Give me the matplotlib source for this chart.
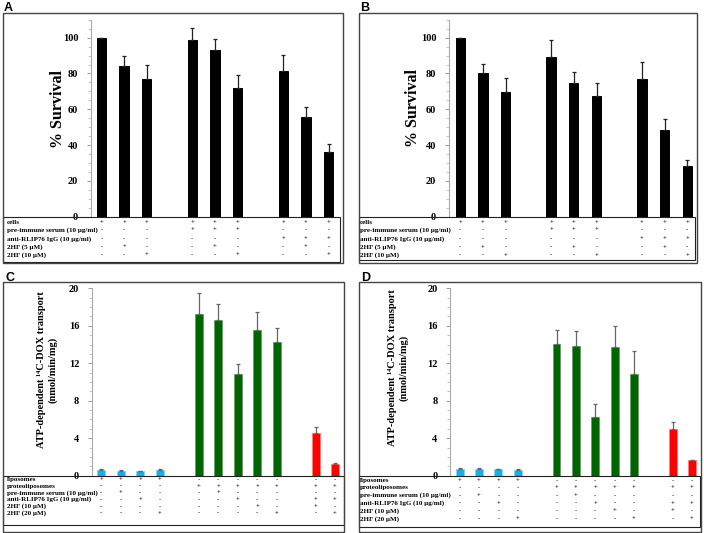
import matplotlib
matplotlib.use('Agg')
import matplotlib.pyplot as plt
import numpy as np
from matplotlib.patches import Rectangle
from matplotlib.ticker import MultipleLocator

W, H = 704, 533
SERIF = ['Liberation Serif', 'DejaVu Serif']

# ---- data: cell survival (panels A, B) ----
survival_rows = ['cells', 'pre-immune serum (10 µg/ml)', 'anti-RLIP76 IgG (10 µg/ml)',
                 '2HF (5 µM)', '2HF (10 µM)']
survival_signs = ['+++++++++', '---+++---', '------+++', '-+--+--+-', '--+--+--+']
survival_groups = [3, 3, 3]
survival_a = [100, 84, 77, 98.5, 93, 72, 81.5, 55.5, 36]
survival_a_sd = [0, 6, 7.5, 7, 6, 7, 9, 6, 4.5]
survival_b = [100, 80.5, 69.5, 89, 74.5, 67.5, 77, 48.5, 28.3]
survival_b_sd = [0, 5, 8, 9.5, 6.3, 7, 9.2, 6.2, 3.2]

# ---- data: DOX transport (panels C, D) ----
transport_rows = ['liposomes', 'proteoliposomes', 'pre-immune serum (10 µg/ml)',
                  'anti-RLIP76 IgG (10 µg/ml)', '2HF (10 µM)', '2HF (20 µM)']
transport_signs = ['++++-------', '----+++++++', '-+---+-----', '--+---+--++',
                   '-------+-+-', '---+----+-+']
transport_groups = [4, 5, 2]
transport_c = [0.6, 0.53, 0.5, 0.57, 17.25, 16.6, 10.85, 15.6, 14.3, 4.55, 1.2]
transport_c_sd = [0.1, 0.05, 0.05, 0.1, 2.2, 1.7, 1.05, 1.9, 1.5, 0.65, 0.15]
transport_d = [0.71, 0.7, 0.7, 0.65, 14.05, 13.85, 6.25, 13.7, 10.9, 5.0, 1.65]
transport_d_sd = [0.12, 0.08, 0.05, 0.05, 1.45, 1.6, 1.45, 2.3, 2.4, 0.75, 0]

survival_colors = ['black', 'black', 'black']
transport_colors = ['#19aee8', '#006400', '#ff0000']
transport_edges = ['#8fd3f0', '#6f9f6f', '#ff8080']


def positions(groups):
    """Bar positions with one empty slot between groups."""
    pos, start = [], 0
    for n in groups:
        pos.extend(range(start, start + n))
        start += n + 1
    return np.array(pos, dtype=float)


def fx(x):
    return x / W


def fy(y):
    return 1 - y / H


def box(fig, x0, y0, x1, y1, color='black', lw=0.8):
    fig.add_artist(Rectangle((fx(x0), fy(y1)), (x1 - x0) / W, (y1 - y0) / H,
                             transform=fig.transFigure, fill=False,
                             edgecolor=color, linewidth=lw))


def draw_panel(fig, lay, values, sds, groups, colors, edges, rows, signs,
               ylabel, err_color):
    x0, y0, x1, y1 = lay['axes']
    ax = fig.add_axes([fx(x0), fy(y1), (x1 - x0) / W, (y1 - y0) / H])
    ax.patch.set_alpha(0)
    pos = positions(groups)

    fc, ec = [], []
    for g, n in enumerate(groups):
        fc += [colors[g]] * n
        ec += [edges[g]] * n
    ax.bar(pos, values, width=0.41, color=fc, edgecolor=ec, linewidth=0.7,
           yerr=[np.zeros(len(sds)), sds],
           error_kw=dict(ecolor=err_color, elinewidth=0.9, capsize=1.3, capthick=0.9))

    ax.set_xlim(*lay['xlim'])
    ax.set_ylim(*lay['ylim'])
    ax.yaxis.set_minor_locator(MultipleLocator(lay['minor']))
    ax.set_yticks(np.arange(0, lay['ytop'] + 1, lay['major']))
    ax.set_xticks([])
    for s in ['top', 'right', 'bottom']:
        ax.spines[s].set_visible(False)
    ax.spines['left'].set_color('#aaaaaa')
    ax.spines['left'].set_linewidth(0.8)
    ax.tick_params(axis='y', which='major', length=3, width=0.7, color='#999999',
                   pad=6, labelsize=7.5)
    ax.tick_params(axis='y', which='minor', length=2, width=0.6, color='#bbbbbb')
    for lab in ax.get_yticklabels():
        lab.set_fontfamily(SERIF)
        lab.set_fontweight('bold')

    # treatment table under the bars
    trans = ax.get_xaxis_transform()
    for r, (name, row) in enumerate(zip(rows, signs)):
        yp = lay['row_ys'][r]
        fig.text(fx(lay['row_x']), fy(yp), name, family=SERIF, fontweight='bold',
                 fontsize=5, va='center', ha='left')
        ya = (y1 - yp) / (y1 - y0)
        for p, s in zip(pos, row):
            ax.text(p, ya, s, transform=trans, ha='center', va='center',
                    fontsize=4.8, fontweight='bold', family=SERIF,
                    color='#222222', clip_on=False)

    fig.text(fx(lay['ylabel_xy'][0]), fy(lay['ylabel_xy'][1]), ylabel, rotation=90,
             family=SERIF, fontweight='bold', fontsize=lay['ylabel_size'],
             ha='center', va='center', multialignment='center', linespacing=1.3)
    fig.text(fx(lay['letter_xy'][0]), fy(lay['letter_xy'][1]), lay['letter'],
             family=['Liberation Sans', 'DejaVu Sans'], fontweight='bold',
             fontsize=9, ha='left', va='top')
    box(fig, *lay['table'], color='#222222', lw=0.8)
    box(fig, *lay['frame'], color='#444444', lw=1.0)
    return ax


fig = plt.figure(figsize=(W / 100, H / 100), dpi=100)

layout_a = dict(letter='A', letter_xy=(4, 2), frame=(2.7, 13.3, 342.7, 263.3),
                table=(2.7, 216.7, 340, 261.7), axes=(90.7, 19.8, 340, 216.7),
                xlim=(-0.47, 10.5), ylim=(0, 110), ytop=100, major=20, minor=5,
                ylabel_xy=(58, 109), ylabel_size=11.5, row_x=7,
                row_ys=[222.7, 230, 238.7, 246.7, 254.7])
layout_b = dict(letter='B', letter_xy=(360, 2), frame=(358.7, 13.3, 697, 262.5),
                table=(358.7, 216.7, 695.3, 260), axes=(448.7, 19.8, 695.3, 216.7),
                xlim=(-0.51, 10.35), ylim=(0, 110), ytop=100, major=20, minor=5,
                ylabel_xy=(413, 108), ylabel_size=11.5, row_x=359.5,
                row_ys=[222.7, 230, 238.7, 247, 255])
layout_c = dict(letter='C', letter_xy=(6, 272), frame=(3.3, 281.7, 344, 531.5),
                table=(3.3, 475.7, 344, 525), axes=(91.7, 288.3, 343, 475.7),
                xlim=(-0.49, 12.41), ylim=(0, 20), ytop=20, major=4, minor=1,
                ylabel_xy=(47, 370), ylabel_size=7.5, row_x=7,
                row_ys=[479.5, 486.2, 492.9, 499.6, 506.3, 513])
layout_d = dict(letter='D', letter_xy=(361, 272), frame=(358.7, 281.7, 700.5, 531.5),
                table=(358.7, 475.7, 700, 526.7), axes=(450, 288.3, 700, 475.7),
                xlim=(-0.5, 12.41), ylim=(0, 20), ytop=20, major=4, minor=1,
                ylabel_xy=(398.5, 368), ylabel_size=7.5, row_x=359.5,
                row_ys=[480.7, 487.5, 495.3, 503.1, 510.9, 518.7])

transport_label = 'ATP-dependent \u00b9\u2074C-DOX transport\n(nmol/min/mg)'

draw_panel(fig, layout_a, survival_a, survival_a_sd, survival_groups,
           survival_colors, survival_colors, survival_rows, survival_signs,
           '% Survival', '#222222')
draw_panel(fig, layout_b, survival_b, survival_b_sd, survival_groups,
           survival_colors, survival_colors, survival_rows, survival_signs,
           '% Survival', '#222222')
draw_panel(fig, layout_c, transport_c, transport_c_sd, transport_groups,
           transport_colors, transport_edges, transport_rows, transport_signs,
           transport_label, '#666666')
draw_panel(fig, layout_d, transport_d, transport_d_sd, transport_groups,
           transport_colors, transport_edges, transport_rows, transport_signs,
           transport_label, '#666666')

fig.savefig('out.png', dpi=100)
